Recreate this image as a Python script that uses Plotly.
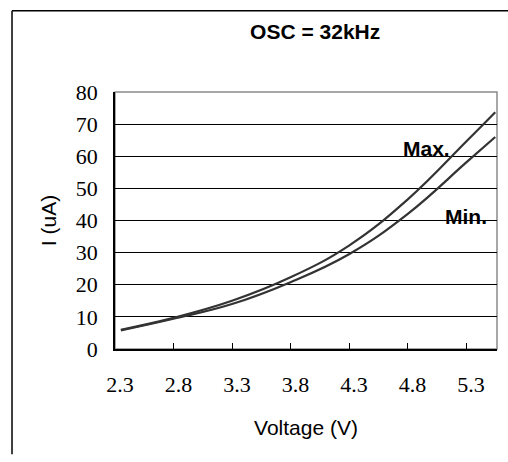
import plotly.graph_objects as go

# Supply current vs. supply voltage at OSC = 32 kHz
voltage = [2.35, 2.8, 3.3, 3.8, 4.3, 4.8, 5.3, 5.55]
i_max = [6.0, 9.7, 15.0, 22.3, 32.2, 46.5, 64.5, 73.7]
i_min = [5.8, 9.4, 14.0, 20.8, 29.5, 42.0, 58.0, 66.0]

x_ticks = [2.3, 2.8, 3.3, 3.8, 4.3, 4.8, 5.3]
y_ticks = [0, 10, 20, 30, 40, 50, 60, 70, 80]

line_style = dict(color="#333333", width=2.2, shape="spline", smoothing=1.2)

fig = go.Figure()
fig.add_trace(go.Scatter(x=voltage, y=i_max, mode="lines", line=line_style, name="Max."))
fig.add_trace(go.Scatter(x=voltage, y=i_min, mode="lines", line=line_style, name="Min."))

fig.add_annotation(x=4.96, y=62.5, text="<b>Max.</b>", showarrow=False,
                   font=dict(family="Liberation Sans, Arial", size=21, color="black"))
fig.add_annotation(x=5.30, y=41.3, text="<b>Min.</b>", showarrow=False,
                   font=dict(family="Liberation Sans, Arial", size=21, color="black"))

# outer frame (top and left edges)
fig.add_shape(type="line", xref="paper", yref="paper", x0=-0.2696, x1=1.1, y0=1.3165, y1=1.3165,
              line=dict(color="black", width=1.5))
fig.add_shape(type="line", xref="paper", yref="paper", x0=-0.2696, x1=-0.2696, y0=1.3165, y1=-0.41,
              line=dict(color="black", width=1.5))

fig.update_layout(
    width=508, height=462,
    margin=dict(l=115, r=11, t=92, b=113),
    paper_bgcolor="white", plot_bgcolor="white",
    showlegend=False,
    title=dict(text="<b>OSC = 32kHz</b>", x=0.524, xref="paper", xanchor="center",
               y=0.931, yanchor="middle",
               font=dict(family="Liberation Sans, Arial", size=21, color="black")),
    xaxis=dict(
        range=[2.3, 5.565], tickvals=x_ticks, ticktext=[f"{v:.1f}" for v in x_ticks],
        ticks="inside", ticklen=6, tickcolor="black", tickwidth=1,
        showgrid=False, zeroline=False,
        showline=True, linecolor="black", linewidth=1.5, mirror=False,
        tickfont=dict(family="Liberation Serif, Times New Roman", size=22, color="black"),
        ticklabelstandoff=15, ticklabelshift=5,
        title=dict(text="Voltage (V)", standoff=24,
                   font=dict(family="Liberation Sans, Arial", size=21, color="black")),
    ),
    yaxis=dict(
        range=[0, 80], tickvals=y_ticks,
        showgrid=True, gridcolor="black", gridwidth=1,
        zeroline=False, ticks="",
        showline=True, linecolor="black", linewidth=1.5,
        tickfont=dict(family="Liberation Serif, Times New Roman", size=22, color="black"),
        ticklabelstandoff=11,
        title=dict(text="I (uA)", standoff=13,
                   font=dict(family="Liberation Sans, Arial", size=21, color="black")),
    ),
)

# light gray plot border on the top and right sides
fig.add_shape(type="rect", xref="paper", yref="paper", x0=0, x1=1, y0=0, y1=1,
              line=dict(color="#8a8a8a", width=1.5), layer="below")

fig.write_html("out.html")
